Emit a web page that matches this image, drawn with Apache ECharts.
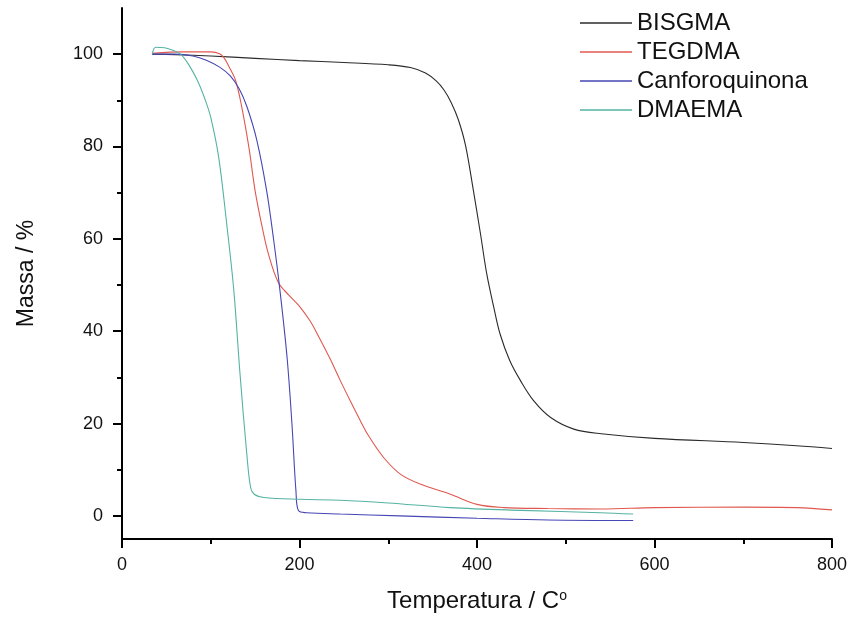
<!DOCTYPE html>
<html>
<head>
<meta charset="utf-8">
<script src="https://cdn.jsdelivr.net/npm/echarts@6/dist/echarts.min.js"></script>
<style>
  html, body { margin: 0; padding: 0; background: #fff; }
  #main { width: 853px; height: 622px; }
</style>
</head>
<body>
<div id="main"></div>
<script>
// TGA curves: [temperatura, massa %]
var bisgma = [
  [34, 100], [60, 99.9], [100, 99.6], [150, 99.1], [200, 98.6], [250, 98.2],
  [300, 97.7], [325, 97.1], [342, 95.9], [354, 94.2], [363, 92.2], [371, 89.5],
  [379, 85.8], [387, 80.3], [396, 70.4], [404, 61], [411, 52.4], [419, 45.1],
  [426, 39.4], [437, 33.6], [449, 29.3], [464, 24.9], [483, 21.3], [509, 18.8],
  [540, 17.8], [600, 16.8], [700, 15.9], [760, 15.2], [800, 14.6]
];
var tegdma = [
  [34, 100.2], [70, 100.5], [100, 100.5], [110, 100.1], [115, 99.2], [120, 97.5],
  [128, 94.3], [135, 88.5], [143, 79.8], [150, 70.4], [158, 62.5], [165, 56.7],
  [176, 50.6], [188, 47.8], [200, 45.4], [212, 42.2], [223, 38.3], [235, 33.8],
  [246, 29.3], [257, 25], [267, 21.2], [278, 17.3], [295, 12.6], [314, 9],
  [336, 6.9], [370, 4.7], [400, 2.5], [430, 1.8], [480, 1.6], [540, 1.5],
  [600, 1.8], [700, 1.9], [760, 1.8], [800, 1.3]
];
var canforoquinona = [
  [34, 100], [60, 100], [80, 99.6], [95, 98.7], [110, 97.2], [122, 95.3],
  [132, 92.5], [141, 88.5], [152, 81.3], [163, 70.4], [171, 59.6], [178, 48.8],
  [186, 34.3], [191.5, 19.9], [196, 5.4], [199, 1.1], [208, 0.7], [246, 0.4],
  [313, 0], [400, -0.5], [480, -0.9], [576, -1.0]
];
var dmaema = [
  [34, 100], [38, 101.5], [48, 101.4], [58, 100.8], [66, 100], [75, 97.8],
  [85, 94.3], [93, 90.5], [100, 86.3], [109, 77.6], [118, 63.2], [126, 48.8],
  [133, 30.7], [141, 12.6], [145, 6.1], [149, 4.7], [160, 4.0], [200, 3.6],
  [246, 3.4], [300, 2.8], [370, 1.8], [450, 1.2], [539, 0.7], [576, 0.4]
];

var seriesNames = ['BISGMA', 'TEGDMA', 'Canforoquinona', 'DMAEMA'];
var seriesColors = ['#2b2b2b', '#e0584f', '#4646b4', '#55b3a3'];
var seriesData = [bisgma, tegdma, canforoquinona, dmaema];

var yMajor = [0, 20, 40, 60, 80, 100];
var yMinor = [10, 30, 50, 70, 90];

var font = 'Arial, "Liberation Sans", sans-serif';
var myChart = echarts.init(document.getElementById('main'));

var series = [];
for (var i = 0; i < seriesNames.length; i++) {
  series.push({
    name: seriesNames[i],
    type: 'line',
    showSymbol: false,
    smooth: 0.35,
    data: seriesData[i],
    lineStyle: { width: 1.1, color: seriesColors[i] },
    itemStyle: { color: seriesColors[i] }
  });
}

var option = {
  animation: false,
  backgroundColor: '#fff',
  grid: { left: 122, right: 21, top: 8, bottom: 83 },
  legend: {
    orient: 'vertical',
    left: 575,
    top: 6,
    icon: 'rect',
    itemWidth: 52,
    itemHeight: 1.5,
    itemGap: 5,
    textStyle: { fontSize: 24, lineHeight: 24, fontFamily: font, color: '#111' },
    data: seriesNames
  },
  xAxis: {
    type: 'value',
    min: 0,
    max: 800,
    interval: 200,
    name: 'Temperatura / C{o|o}',
    nameLocation: 'middle',
    nameGap: 50,
    nameTextStyle: {
      fontSize: 24, fontFamily: font, color: '#111',
      rich: { o: { fontSize: 14, fontFamily: font, color: '#111', verticalAlign: 'top', lineHeight: 18 } }
    },
    axisLine: { onZero: false, lineStyle: { color: '#000', width: 2 } },
    axisTick: { length: 9, lineStyle: { color: '#000', width: 2 } },
    minorTick: { show: true, splitNumber: 2, length: 5, lineStyle: { color: '#000', width: 2 } },
    axisLabel: { fontSize: 18, fontFamily: font, color: '#111', margin: 17 },
    splitLine: { show: false }
  },
  yAxis: [{
    type: 'value',
    min: -5,
    max: 110,
    name: 'Massa / %',
    nameLocation: 'middle',
    nameGap: 84,
    nameTextStyle: { fontSize: 23, fontFamily: font, color: '#111' },
    axisLine: { show: true, onZero: false, lineStyle: { color: '#000', width: 2 } },
    axisTick: { show: true, length: 9, customValues: yMajor, lineStyle: { color: '#000', width: 2 } },
    axisLabel: { fontSize: 18, fontFamily: font, color: '#111', margin: 19, customValues: yMajor },
    splitLine: { show: false }
  }, {
    // only the short ticks between the labelled ones
    type: 'value',
    min: -5,
    max: 110,
    position: 'left',
    axisLine: { show: false, onZero: false },
    axisTick: { show: true, length: 5, customValues: yMinor, lineStyle: { color: '#000', width: 2 } },
    axisLabel: { show: false },
    splitLine: { show: false }
  }],
  series: series
};

myChart.setOption(option);
</script>
</body>
</html>
